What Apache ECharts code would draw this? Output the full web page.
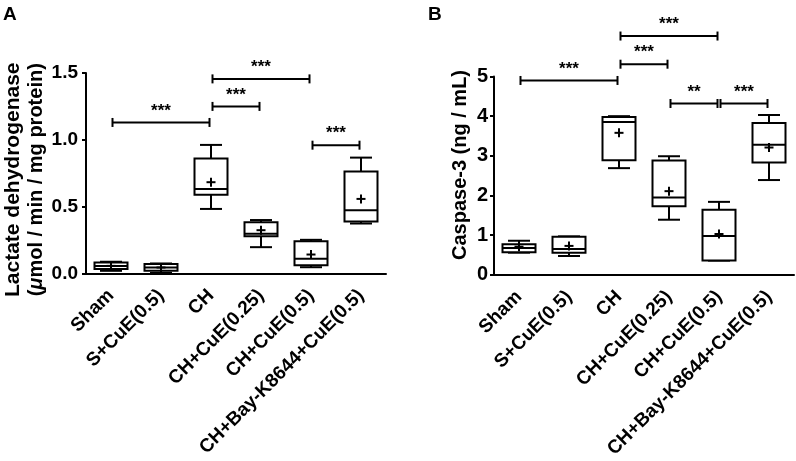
<!DOCTYPE html>
<html><head><meta charset="utf-8">
<script src="https://cdn.jsdelivr.net/npm/echarts@6/dist/echarts.min.js"></script>
<style>html,body{margin:0;padding:0;background:#fff}#c{width:796px;height:461px}</style>
</head><body><div id="c"></div>
<script>
const categories = ['Sham','S+CuE(0.5)','CH','CH+CuE(0.25)','CH+CuE(0.5)','CH+Bay-K8644+CuE(0.5)'];

// Panel A: Lactate dehydrogenase
const ldhMin    = [0.020, 0.005, 0.483, 0.197, 0.047, 0.374];
const ldhQ1     = [0.034, 0.020, 0.590, 0.279, 0.062, 0.389];
const ldhMedian = [0.057, 0.045, 0.633, 0.297, 0.110, 0.473];
const ldhQ3     = [0.082, 0.072, 0.860, 0.384, 0.242, 0.763];
const ldhMax    = [0.088, 0.075, 0.962, 0.400, 0.252, 0.867];
const ldhMean   = [0.057, 0.045, 0.683, 0.324, 0.142, 0.558];
const ldhTicks  = [0, 0.5, 1.0, 1.5];
const ldhSigFrom  = [0, 2, 2, 4];
const ldhSigTo    = [2, 4, 3, 5];
const ldhSigY     = [1.13, 1.456, 1.25, 0.96];
const ldhSigLabel = ['***', '***', '***', '***'];

// Panel B: Caspase-3
const caspMin    = [0.56, 0.475, 2.69, 1.39, 0.36, 2.39];
const caspQ1     = [0.57, 0.56, 2.89, 1.73, 0.36, 2.83];
const caspMedian = [0.68, 0.65, 3.85, 1.95, 0.98, 3.28];
const caspQ3     = [0.77, 0.96, 3.98, 2.88, 1.64, 3.83];
const caspMax    = [0.86, 0.97, 4.00, 2.99, 1.84, 4.03];
const caspMean   = [0.71, 0.73, 3.58, 2.11, 1.03, 3.21];
const caspTicks  = [0, 1, 2, 3, 4, 5];
const caspSigFrom  = [0, 2, 2, 3, 4];
const caspSigTo    = [2, 4, 3, 4, 5];
const caspSigY     = [4.9, 6.02, 5.31, 4.32, 4.32];
const caspSigLabel = ['***', '***', '***', '**', '***'];
const caspName = 'Caspase-3 (ng / mL)';

const FONT = '"Liberation Sans", Arial, sans-serif';
const LW = 2;

function boxData(mn, q1, md, q3, mx, mean) {
  return categories.map((c, i) => [i, mn[i], q1[i], md[i], q3[i], mx[i], mean[i]]);
}
function sigData(from, to, y) {
  return from.map((f, i) => [f, to[i], y[i]]);
}

function boxRender(params, api) {
  const xi = api.value(0);
  const band = api.size([1, 0])[0];
  const bw = band * 0.66 / 2, cw = band * 0.44 / 2, pw = 4.5;
  const p = v => api.coord([xi, v]);
  const cx = p(api.value(1))[0];
  const yMin = p(api.value(1))[1], yQ1 = p(api.value(2))[1], yMd = p(api.value(3))[1];
  const yQ3 = p(api.value(4))[1], yMax = p(api.value(5))[1], yMean = p(api.value(6))[1];
  const ls = { stroke: '#000', lineWidth: LW, fill: null };
  const line = (x1, y1, x2, y2) => ({ type: 'line', shape: { x1, y1, x2, y2 }, style: ls });
  return {
    type: 'group',
    children: [
      line(cx, yQ3, cx, yMax),
      line(cx, yQ1, cx, yMin),
      line(cx - cw, yMax, cx + cw, yMax),
      line(cx - cw, yMin, cx + cw, yMin),
      { type: 'rect', shape: { x: cx - bw, y: yQ3, width: bw * 2, height: yQ1 - yQ3 },
        style: { stroke: '#000', lineWidth: LW, fill: '#fff' } },
      line(cx - bw, yMd, cx + bw, yMd),
      line(cx - pw, yMean, cx + pw, yMean),
      line(cx, yMean - pw, cx, yMean + pw)
    ]
  };
}

function makeSigRender(labels) {
  return function (params, api) {
    const a = api.coord([api.value(0), api.value(2)]);
    const b = api.coord([api.value(1), api.value(2)]);
    const x1 = a[0] + 1.5, x2 = b[0] - 1.5, y = a[1];
    const ls = { stroke: '#000', lineWidth: LW };
    return {
      type: 'group',
      children: [
        { type: 'line', shape: { x1, y1: y, x2, y2: y }, style: ls },
        { type: 'line', shape: { x1, y1: y - 4.5, x2: x1, y2: y + 4.5 }, style: ls },
        { type: 'line', shape: { x1: x2, y1: y - 4.5, x2, y2: y + 4.5 }, style: ls },
        { type: 'text', style: { text: labels[params.dataIndex], x: (x1 + x2) / 2, y: y - 3,
          align: 'center', verticalAlign: 'bottom', fill: '#000',
          font: 'bold 17px ' + FONT } }
      ]
    };
  };
}

function xAxis(gi) {
  return {
    type: 'category', gridIndex: gi, data: categories, boundaryGap: true,
    axisLine: { lineStyle: { color: '#000', width: LW } },
    axisTick: { alignWithLabel: true, length: 5, lineStyle: { color: '#000', width: LW } },
    axisLabel: { rotate: 45, margin: 19, color: '#000', fontSize: 19, fontWeight: 'bold', fontFamily: FONT, interval: 0 },
    splitLine: { show: false }
  };
}
function yAxis(gi, ticks, digits, name, gap, labelSize, labelMargin, nameStyle) {
  return {
    type: 'value', gridIndex: gi, min: ticks[0], max: ticks[ticks.length - 1],
    interval: ticks[1] - ticks[0],
    name: name, nameLocation: 'middle', nameGap: gap,
    nameTextStyle: nameStyle,
    axisLine: { show: true, lineStyle: { color: '#000', width: LW } },
    axisTick: { show: true, length: 4, lineStyle: { color: '#000', width: LW } },
    axisLabel: { margin: labelMargin, color: '#000', fontSize: labelSize, fontWeight: 'bold', fontFamily: FONT,
      formatter: v => v.toFixed(digits) },
    splitLine: { show: false }
  };
}

const tok = (size, extra) => Object.assign({ fontSize: size, fontWeight: 'bold', fontFamily: FONT, color: '#000' }, extra || {});

const chart = echarts.init(document.getElementById('c'), null, { renderer: 'canvas' });
chart.setOption({
  backgroundColor: '#fff',
  animation: false,
  title: [
    { text: 'A', left: 3, top: 5, padding: 0, textStyle: { fontSize: 19, fontWeight: 'bold', color: '#000', fontFamily: FONT } },
    { text: 'B', left: 428, top: 5, padding: 0, textStyle: { fontSize: 19, fontWeight: 'bold', color: '#000', fontFamily: FONT } }
  ],
  graphic: [
    { type: 'text', x: 460, y: 165, rotation: Math.PI / 2,
      style: { text: caspName, align: 'center', verticalAlign: 'middle', fill: '#000',
        font: 'bold 20px ' + FONT } }
  ],
  grid: [
    { left: 86, top: 73, width: 300, height: 200.5 },
    { left: 494, top: 76.5, width: 300, height: 199.5 }
  ],
  xAxis: [xAxis(0), xAxis(1)],
  yAxis: [
    yAxis(0, ldhTicks, 1, '{a|Lactate dehydrogenase}\n{b|(}{i|μ}{b|mol / min / mg protein)}', 38, 19, 8,
      { color: '#000', fontSize: 20, fontWeight: 'bold', fontFamily: FONT, padding: [0, 13, 0, 0],
        rich: { a: tok(21, { lineHeight: 23 }), b: tok(20, { lineHeight: 23 }), i: tok(20, { lineHeight: 23, fontStyle: 'italic' }) } }),
    yAxis(1, caspTicks, 0, '', 24, 20, 6, {})
  ],
  series: [
    { type: 'custom', xAxisIndex: 0, yAxisIndex: 0, renderItem: boxRender, clip: false,
      encode: { x: 0, y: [1, 2, 3, 4, 5, 6] }, data: boxData(ldhMin, ldhQ1, ldhMedian, ldhQ3, ldhMax, ldhMean) },
    { type: 'custom', xAxisIndex: 0, yAxisIndex: 0, renderItem: makeSigRender(ldhSigLabel), clip: false,
      encode: { x: [0, 1], y: 2 }, data: sigData(ldhSigFrom, ldhSigTo, ldhSigY) },
    { type: 'custom', xAxisIndex: 1, yAxisIndex: 1, renderItem: boxRender, clip: false,
      encode: { x: 0, y: [1, 2, 3, 4, 5, 6] }, data: boxData(caspMin, caspQ1, caspMedian, caspQ3, caspMax, caspMean) },
    { type: 'custom', xAxisIndex: 1, yAxisIndex: 1, renderItem: makeSigRender(caspSigLabel), clip: false,
      encode: { x: [0, 1], y: 2 }, data: sigData(caspSigFrom, caspSigTo, caspSigY) }
  ]
});
</script></body></html>
